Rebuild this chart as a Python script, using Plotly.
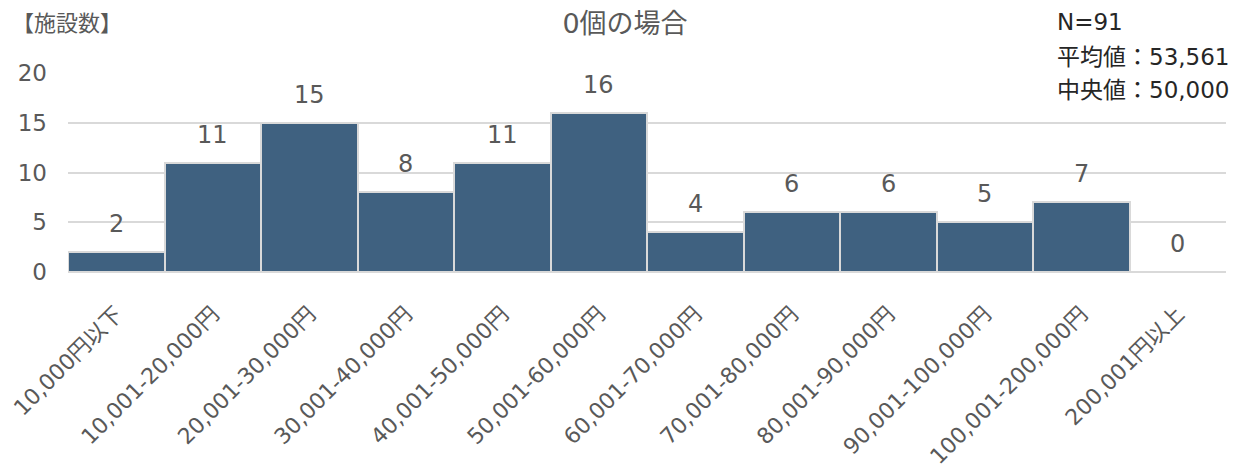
import plotly.graph_objects as go

categories = ["10,000円以下", "10,001-20,000円", "20,001-30,000円", "30,001-40,000円",
              "40,001-50,000円", "50,001-60,000円", "60,001-70,000円", "70,001-80,000円",
              "80,001-90,000円", "90,001-100,000円", "100,001-200,000円", "200,001円以上"]
counts = [2, 11, 15, 8, 11, 16, 4, 6, 6, 5, 7, 0]
y_ticks = [0, 5, 10, 15, 20]
stats = ["N=91", "平均値：53,561", "中央値：50,000"]

FONT = "DejaVu Sans, Noto Sans CJK JP, sans-serif"
GRAY = "#595959"

# page has an 8px body margin; figure is drawn at (8, 8)
OFF = 8
FW, FH = 1244 - OFF, 475 - OFF
PX0, PY0, PX1, PY1 = 68, 73, 1226, 272   # plot area in page pixels
PW, PH = PX1 - PX0, PY1 - PY0


def px(x):
    return (x - PX0) / PW


def py(y):
    return 1 - (y - PY0) / PH


fig = go.Figure()
fig.add_trace(go.Bar(
    x=categories, y=counts,
    marker=dict(color="#3f6180", line=dict(color="#d9d9d9", width=2)),
    width=1.0,
    hoverinfo="skip",
))

for c, v in zip(categories, counts):
    fig.add_annotation(x=c, y=v, text=str(v), showarrow=False, yshift=28,
                       font=dict(size=24, color=GRAY, family=FONT))

fig.add_annotation(xref="paper", yref="paper", x=px(10), y=py(24),
                   xanchor="left", yanchor="middle",
                   text="【施設数】", showarrow=False, font=dict(size=22, color=GRAY, family=FONT))

stat_y = [22, 57, 90]
for s, yy in zip(stats, stat_y):
    fig.add_annotation(xref="paper", yref="paper", x=px(1055), y=py(yy),
                       xanchor="left", yanchor="middle", text=s, showarrow=False,
                       font=dict(size=23, color="#262626", family=FONT))

fig.update_layout(
    width=FW, height=FH,
    margin=dict(l=PX0 - OFF, r=FW - (PX1 - OFF), t=PY0 - OFF, b=FH - (PY1 - OFF), autoexpand=False),
    plot_bgcolor="white", paper_bgcolor="white",
    showlegend=False,
    bargap=0,
    font=dict(family=FONT, color=GRAY, size=22),
    title=dict(text="0個の場合", x=(625 - OFF) / FW, xanchor="center",
               y=1 - (24 - OFF) / FH, yanchor="middle",
               font=dict(size=27, color=GRAY, family=FONT), automargin=False),
    xaxis=dict(tickangle=-45, tickfont=dict(size=22, color=GRAY), showgrid=False,
               showline=False, ticks="", automargin=False, ticklabelstandoff=24),
    yaxis=dict(range=[0, 20], tickvals=y_ticks, showgrid=True, gridcolor="#d9d9d9",
               gridwidth=1.5, zeroline=True, zerolinecolor="#d9d9d9", zerolinewidth=1.5,
               tickfont=dict(size=23, color=GRAY), ticks="", ticklabelstandoff=20,
               automargin=False),
)

fig.write_html("out.html")
